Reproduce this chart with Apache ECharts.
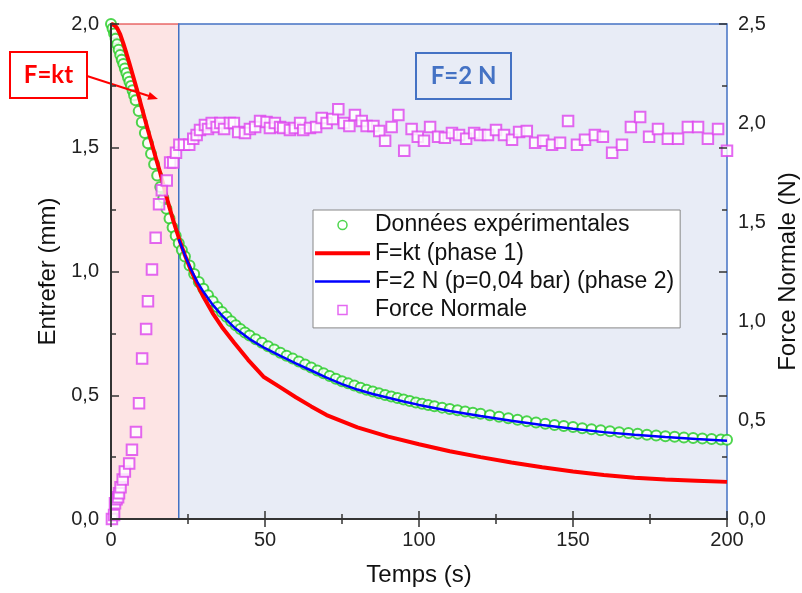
<!DOCTYPE html>
<html>
<head>
<meta charset="utf-8">
<script src="https://cdn.jsdelivr.net/npm/echarts@6/dist/echarts.min.js"></script>
<style>html,body{margin:0;padding:0;background:#fff;}#c{width:802px;height:593px;}</style>
</head>
<body>
<div id="c"></div>
<script>
// ---- data ----
const phaseBoundary = 22;
const expT = [0,0.5,1,1.5,2,2.5,3,3.5,4,4.5,5,5.5,6,6.5,7,7.5,8,9,10,11,12,13,14,15,16,17,18,19,20,21,22,23,24,25.5,27,28.5,30,31.5,33,34.5,36,37.5,39,40.5,42,43.5,45,47,49,51,53,55,57,59,61,63,65,67,69,71,73,75,77,79,81,83,85,87,89,91,93,95,97,99,101,103,105,107.5,110,112.5,115,117.5,120,123,126,129,132,135,138,141,144,147,150,153,156,159,162,165,168,171,174,177,180,183,186,189,192,195,198,200];
const expY = [2.000,1.982,1.962,1.940,1.918,1.896,1.875,1.856,1.838,1.820,1.802,1.785,1.767,1.750,1.732,1.712,1.692,1.648,1.603,1.560,1.518,1.476,1.433,1.388,1.341,1.297,1.254,1.214,1.178,1.144,1.114,1.087,1.061,1.024,0.990,0.958,0.930,0.904,0.880,0.857,0.836,0.817,0.799,0.783,0.768,0.754,0.741,0.726,0.712,0.698,0.685,0.672,0.660,0.648,0.636,0.624,0.612,0.600,0.589,0.578,0.567,0.557,0.548,0.539,0.530,0.522,0.515,0.508,0.501,0.495,0.489,0.483,0.477,0.471,0.466,0.461,0.456,0.450,0.444,0.439,0.434,0.429,0.425,0.419,0.413,0.407,0.401,0.395,0.390,0.385,0.380,0.376,0.372,0.367,0.363,0.359,0.355,0.351,0.347,0.344,0.340,0.337,0.334,0.332,0.329,0.327,0.325,0.323,0.321,0.320];
const redT = [0,1,2,3,4,5,6,7,8,9,10,11,12,13,14,15,16,17,18,19,20,21,22,23,24,26,28,30,33,36,40,44.5,49.5,55,60,65,70,80,90,100,110,120,130,140,150,160,170,180,190,200];
const redY = [2.000,1.996,1.983,1.958,1.922,1.882,1.840,1.797,1.753,1.708,1.662,1.616,1.571,1.527,1.483,1.440,1.398,1.350,1.302,1.258,1.215,1.175,1.137,1.100,1.066,1.003,0.948,0.898,0.832,0.776,0.712,0.643,0.575,0.532,0.492,0.455,0.420,0.370,0.333,0.302,0.274,0.250,0.228,0.209,0.192,0.178,0.167,0.160,0.155,0.150];
const blueT = [22,23,24,25,26,28,30,33,36,40,45,50,55,60,65,70,75,80,85,90,95,100,110,120,130,140,150,160,170,180,190,200];
const blueY = [1.130,1.098,1.066,1.036,1.008,0.958,0.918,0.866,0.823,0.774,0.727,0.690,0.659,0.629,0.600,0.571,0.545,0.523,0.505,0.490,0.475,0.461,0.436,0.416,0.397,0.380,0.365,0.351,0.340,0.331,0.323,0.316];
const forceT = [0.3,1.0,1.3,1.8,2.3,2.6,3.1,3.8,4.5,5.9,6.8,8.1,9.1,10.1,11.4,12.0,13.3,14.5,15.6,16.5,18.1,19.2,20.2,21.1,22.2,23.7,25.4,26.7,27.8,28.9,30.5,31.5,32.7,34.3,35.5,36.7,38.6,39.9,41.3,43.5,45.1,46.8,48.4,50.5,51.6,53.2,54.9,55.9,58.1,59.7,61.4,62.4,64.6,66.6,68.4,70.0,72.0,73.8,75.6,77.4,79.2,81.4,83.0,85.2,87.1,89.0,91.1,93.3,95.2,97.6,99.6,101.6,103.6,106.2,108.4,110.7,113.0,115.3,117.9,119.8,122.4,125.0,127.6,130.2,132.5,135.0,137.7,140.3,143.2,145.8,148.4,151.3,153.9,157.1,159.7,162.7,165.9,168.8,171.8,174.7,177.6,180.8,184.1,187.3,190.6,193.8,197.1,200.0];
const forceY = [0.00,0.02,0.08,0.10,0.11,0.13,0.16,0.20,0.24,0.28,0.35,0.44,0.585,0.81,0.96,1.10,1.26,1.42,1.59,1.66,1.71,1.80,1.80,1.85,1.89,1.89,1.89,1.92,1.94,1.965,1.99,1.97,2.00,1.98,2.00,1.97,2.00,2.00,1.955,1.95,1.97,1.98,2.01,2.005,1.975,2.00,1.98,1.975,1.965,1.975,2.00,1.965,1.975,1.98,2.025,2.00,2.02,2.07,2.00,1.985,2.04,2.01,1.985,1.985,1.96,1.91,1.98,2.04,1.86,1.97,1.93,1.91,1.98,1.93,1.925,1.95,1.94,1.92,1.95,1.94,1.94,1.965,1.94,1.915,1.955,1.96,1.90,1.91,1.89,1.90,2.01,1.89,1.915,1.94,1.93,1.85,1.89,1.98,2.03,1.93,1.97,1.92,1.92,1.98,1.98,1.92,1.97,1.86];

const names = ['Données expérimentales', 'F=kt (phase 1)', 'F=2 N (p=0,04 bar) (phase 2)', 'Force Normale'];
const zip = (a, b) => a.map((v, i) => [v, b[i]]);
const comma = v => v.toFixed(1).replace('.', ',');
const FONT = 'Liberation Sans, Arial, sans-serif';
const GREEN = '#22cc22', RED = '#ff0000', BLUE = '#0000ff', MAG = '#dd44ee';

const chart = echarts.init(document.getElementById('c'), null, {renderer: 'canvas'});
const axisLine = {show: true, lineStyle: {color: '#333', width: 2}};
const tick = {show: true, inside: true, length: 8, lineStyle: {color: '#333', width: 1.5}};
const minor = {show: true, splitNumber: 2, length: 5, lineStyle: {color: '#333', width: 1.5}};
const lbl = {fontFamily: FONT, fontSize: 20, color: '#222'};
const titleStyle = {fontFamily: FONT, fontSize: 24, color: '#111'};

chart.setOption({
  animation: false,
  grid: {left: 111, right: 75, top: 24, bottom: 74, containLabel: false, outerBoundsMode: 'none'},
  legend: {
    data: [
      {name: names[0], icon: 'circle', itemStyle: {color: 'none', borderColor: GREEN, borderWidth: 1.5}},
      {name: names[1], icon: 'path://M0,0L55,0L55,4L0,4Z', itemStyle: {color: RED, borderWidth: 0}},
      {name: names[2], icon: 'path://M0,0L55,0L55,2.5L0,2.5Z', itemStyle: {color: BLUE, borderWidth: 0}},
      {name: names[3], icon: 'path://M0,0L10,0L10,10L0,10Z', itemStyle: {color: 'none', borderColor: MAG, borderWidth: 1.5}}
    ],
    orient: 'vertical',
    left: 313, top: 210,
    padding: [3, 6, 6, 2],
    itemGap: 4.3,
    itemWidth: 55, itemHeight: 9,
    backgroundColor: '#ffffff',
    borderColor: '#888', borderWidth: 1,
    textStyle: {fontFamily: FONT, fontSize: 23, color: '#111', lineHeight: 24}
  },
  xAxis: [
    {type: 'value', min: 0, max: 200, interval: 50, position: 'bottom', z: 10,
     axisLine, axisTick: tick, minorTick: minor, splitLine: {show: false},
     axisLabel: Object.assign({margin: 11}, lbl),
     name: 'Temps (s)', nameLocation: 'middle', nameGap: 44, nameTextStyle: titleStyle},
    {type: 'value', min: 0, max: 200, interval: 50, position: 'top', z: 10,
     axisLine, axisTick: tick, minorTick: minor, splitLine: {show: false},
     axisLabel: {show: false}}
  ],
  yAxis: [
    {type: 'value', min: 0, max: 2, interval: 0.5, position: 'left', z: 10,
     axisLine, axisTick: tick, minorTick: minor, splitLine: {show: false},
     axisLabel: Object.assign({margin: 12, formatter: comma}, lbl),
     name: 'Entrefer (mm)', nameLocation: 'middle', nameGap: 50, nameTextStyle: titleStyle},
    {type: 'value', min: 0, max: 2.5, interval: 0.5, position: 'right', z: 10,
     axisLine, axisTick: {show: false}, splitLine: {show: false},
     axisLabel: Object.assign({margin: 11, formatter: comma}, lbl),
     name: 'Force Normale (N)', nameLocation: 'middle', nameGap: 46, nameTextStyle: titleStyle},
    {type: 'value', min: 0, max: 2, interval: 0.5, position: 'right', z: 10,
     axisLine: {show: false}, axisTick: tick, minorTick: minor, splitLine: {show: false},
     axisLabel: {show: false}}
  ],
  series: [
    {name: 'bg', type: 'line', data: [], silent: true, z: 0,
     markArea: {silent: true, data: [
       [{xAxis: 0, itemStyle: {color: '#fde4e4', borderColor: '#dd2222', borderWidth: 1.2}}, {xAxis: phaseBoundary}],
       [{xAxis: phaseBoundary, itemStyle: {color: '#e8ecf6', borderColor: '#4472c4', borderWidth: 1.5}}, {xAxis: 200}]
     ]}},
    {name: names[0], type: 'scatter', data: zip(expT, expY), symbol: 'emptyCircle', symbolSize: 10, z: 2,
     itemStyle: {color: GREEN, borderColor: GREEN, borderWidth: 1.5}},
    {name: names[1], type: 'line', data: zip(redT, redY), showSymbol: false, symbol: 'none', z: 3,
     lineStyle: {color: RED, width: 4}, itemStyle: {color: RED}},
    {name: names[2], type: 'line', data: zip(blueT, blueY), showSymbol: false, symbol: 'none', z: 4,
     lineStyle: {color: BLUE, width: 2.5}, itemStyle: {color: BLUE}},
    {name: names[3], type: 'scatter', yAxisIndex: 1, data: zip(forceT, forceY), symbol: 'emptyRect', symbolSize: 10.5, z: 5,
     itemStyle: {color: MAG, borderColor: MAG, borderWidth: 1.5}}
  ],
  graphic: [
    {type: 'rect', shape: {x: 10, y: 52, width: 77, height: 46}, style: {fill: '#fff', stroke: RED, lineWidth: 2}, z: 10},
    {type: 'text', x: 48.5, y: 75, style: {text: 'F=kt', font: 'bold 24px Lato, sans-serif', fill: RED, textAlign: 'center', textVerticalAlign: 'middle'}, z: 11},
    {type: 'line', shape: {x1: 87, y1: 76, x2: 149, y2: 96}, style: {stroke: RED, lineWidth: 2}, z: 10},
    {type: 'polygon', shape: {points: [[158, 99], [147.3, 99.7], [149.7, 92.1]]}, style: {fill: RED}, z: 10},
    {type: 'rect', shape: {x: 416, y: 53, width: 95, height: 46}, style: {fill: 'none', stroke: '#4472c4', lineWidth: 2}, z: 10},
    {type: 'text', x: 463.5, y: 76, style: {text: 'F=2 N', font: 'bold 24px Lato, sans-serif', fill: '#4472c4', textAlign: 'center', textVerticalAlign: 'middle'}, z: 11}
  ]
});
</script>
</body>
</html>
